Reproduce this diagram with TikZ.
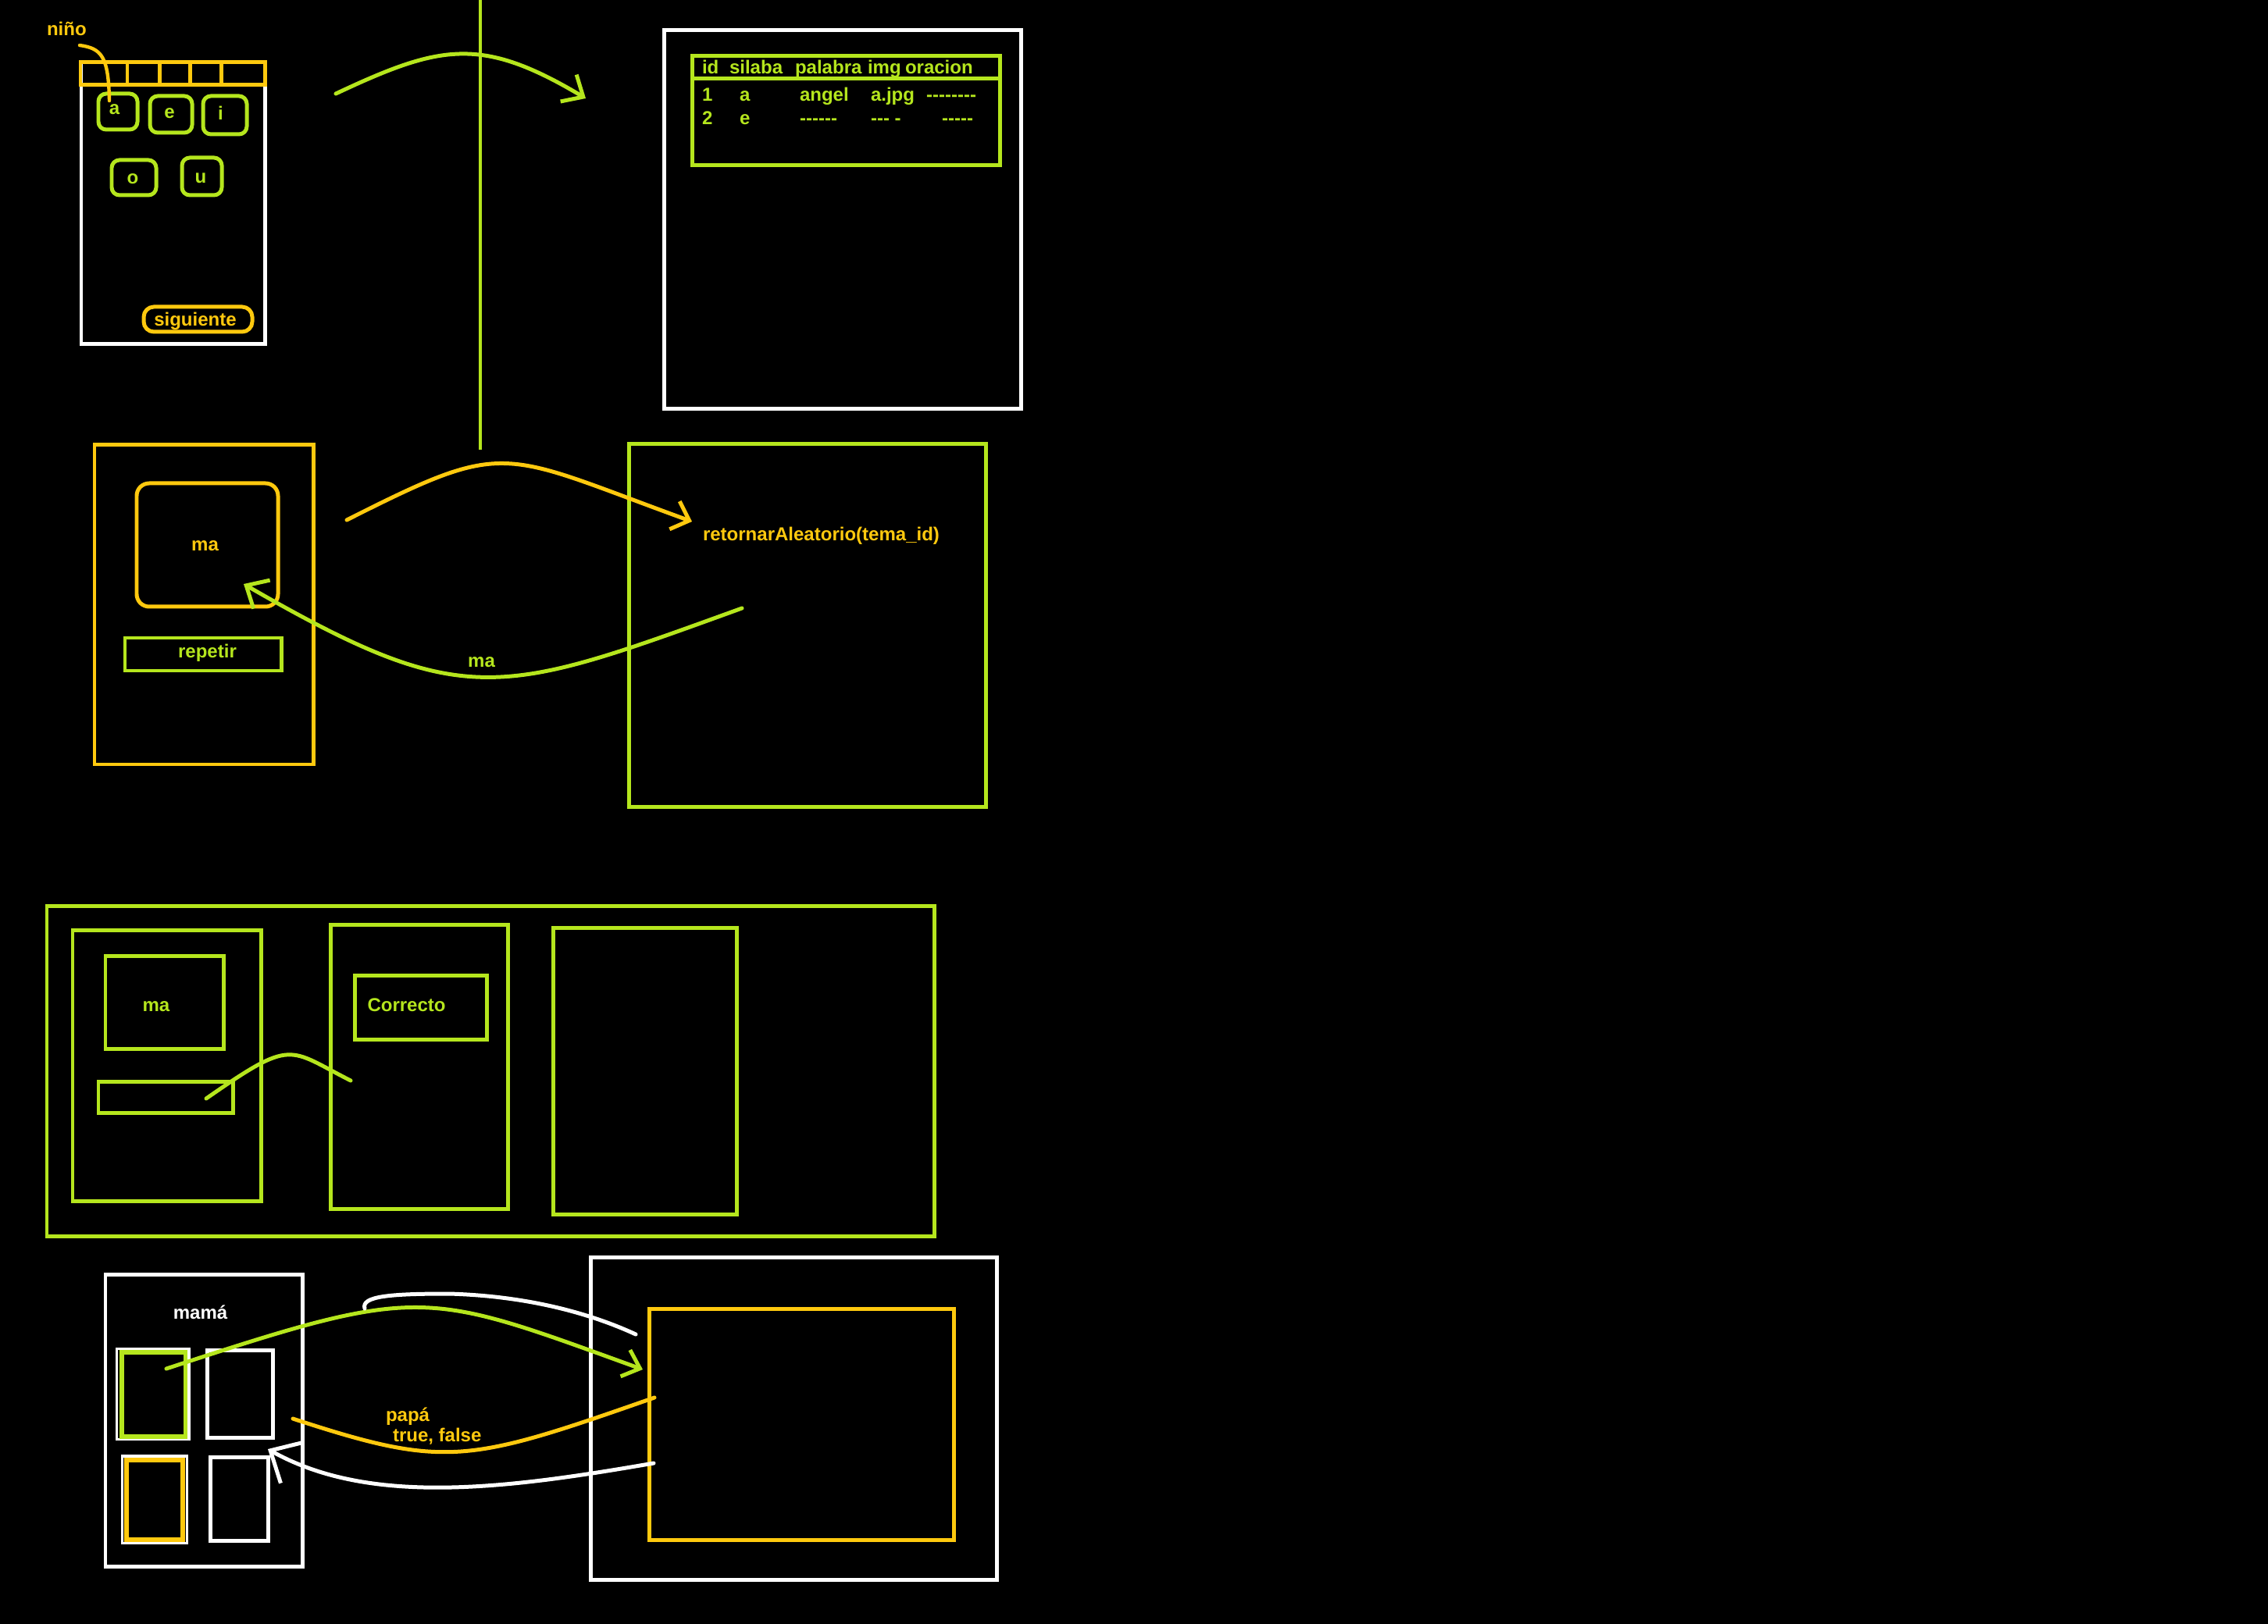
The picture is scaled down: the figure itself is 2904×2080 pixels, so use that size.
\documentclass[tikz,border=0pt]{standalone}
\usepackage{fontspec}
\setmainfont{Liberation Sans}
\usetikzlibrary{arrows.meta,fit}
\definecolor{lime}{HTML}{B5E61D}
\definecolor{gold}{HTML}{FFC90E}
\newcommand\myhy{\mbox{-}}
\begin{document}
\begin{tikzpicture}[x=0.01cm,y=-0.01cm,
  every node/.style={inner sep=0pt,outer sep=0pt},
  gbox/.style={draw=lime,line width=1.42pt,fit={#1}},
  ybox/.style={draw=gold,line width=1.42pt,fit={#1}},
  wbox/.style={draw=white,line width=1.42pt,fit={#1}},
  gl/.style={draw=lime,line width=1.42pt},
  yl/.style={draw=gold,line width=1.42pt},
  conn/.style={line width=1.42pt,line cap=round},
  barb/.style 2 args={-{Straight Barb[length=#1,width=#2]}},
  txt/.style={font=\fontsize{6.83pt}{8pt}\selectfont\bfseries}
]
\path[use as bounding box,fill=black] (0,0) rectangle (2904,2080);

% ---------- top phone ----------
\node[wbox={(104,80)(339,441)}] (phone1) {};
\node[ybox={(103,80)(339,109)}] (bar) {};
\draw[yl] (163,80) -- (163,109);
\draw[yl] (204,80) -- (204,109);
\draw[yl] (243,80) -- (243,109);
\draw[yl] (283,80) -- (283,109);
\node[gbox={(126,120)(176,166)},rounded corners=0.1cm] (ka) {};
\node[gbox={(192,123)(246,170)},rounded corners=0.1cm] (ke) {};
\node[gbox={(260,123)(316,172)},rounded corners=0.1cm] (ki) {};
\node[gbox={(143,205)(200,250)},rounded corners=0.1cm] (ko) {};
\node[gbox={(233,202)(284,250)},rounded corners=0.1cm] (ku) {};
\node[txt,lime,anchor=base] (la) at (146.5,147) {a};
\node[txt,lime,anchor=base] (le) at (217,152) {e};
\node[txt,lime,anchor=base] (li) at (282.5,154) {i};
\node[txt,lime,anchor=base] (lo) at (170,235.7) {o};
\node[txt,lime,anchor=base] (lu) at (257,235) {u};
\node[ybox={(184,393)(323,425)},rounded corners=0.13cm] (sig) {};
\node[txt,gold,anchor=base] (lsig) at (250,417.7) {siguiente};
\node[txt,gold,anchor=base west] (nino) at (60,46) {niño};
\coordinate (ns) at (102,58);
\coordinate (ne) at (140,129);
\draw[conn,gold,line width=1.25pt] (ns) .. controls (130,62) and (139,72) .. (ne);

% ---------- top database ----------
\node[wbox={(850,38.5)(1307.5,524)}] (db) {};
\node[gbox={(886,72)(1280,212)}] (tab) {};
\draw[gl] (886,101) -- (1280,101);
\node[txt,lime,anchor=base west] (h1) at (899,95) {id};
\node[txt,lime,anchor=base west] (h2) at (934,95) {silaba};
\node[txt,lime,anchor=base west] (h3) at (1018,95) {palabra};
\node[txt,lime,anchor=base west] (h4) at (1111,95) {img};
\node[txt,lime,anchor=base west] (h5) at (1159,95) {oracion};
\node[txt,lime,anchor=base west] (r11) at (899,130) {1};
\node[txt,lime,anchor=base west] (r12) at (947,130) {a};
\node[txt,lime,anchor=base west] (r13) at (1024,130) {angel};
\node[txt,lime,anchor=base west] (r14) at (1115,130) {a.jpg};
\node[txt,lime,anchor=base west] (r15) at (1186,130) {\myhy\myhy\myhy\myhy\myhy\myhy\myhy\myhy};
\node[txt,lime,anchor=base west] (r21) at (899,160) {2};
\node[txt,lime,anchor=base west] (r22) at (947,160) {e};
\node[txt,lime,anchor=base west] (r23) at (1024,160) {\myhy\myhy\myhy\myhy\myhy\myhy};
\node[txt,lime,anchor=base west] (r24) at (1115,160) {\myhy\myhy\myhy\ \myhy};
\node[txt,lime,anchor=base west] (r25) at (1206,160) {\myhy\myhy\myhy\myhy\myhy};

% top arrow and divider
\coordinate (t1s) at (430,120);
\coordinate (t1e) at (750,126);
\draw[conn,lime,barb={0.22cm}{0.40cm}] (t1s) .. controls (564,57) and (616,46) .. (t1e);
\coordinate (vtop) at (615,0);
\coordinate (vbot) at (615,576);
\draw[lime,line width=1.25pt] (vtop) -- (vbot);

% ---------- middle ----------
\node[ybox={(121,570)(401,979)}] (phone2) {};
\node[ybox={(175,619)(356,777)},rounded corners=0.16cm] (card) {};
\node[txt,gold,anchor=base] (lma1) at (262.6,706) {ma};
\node[gbox={(160,817)(360,859)}] (rep) {};
\node[txt,lime,anchor=base] (lrep) at (265.5,842.7) {repetir};
\node[gbox={(805,568.5)(1262.5,1033.5)}] (server) {};
\node[txt,gold,anchor=base west] (lret) at (900,693) {retornarAleatorio(tema\_id)};
\coordinate (m1s) at (444,666);
\coordinate (m1e) at (886,668);
\draw[conn,gold,barb={0.2cm}{0.38cm}] (m1s) .. controls (652,561) and (638,578) .. (m1e);
\coordinate (m2s) at (950,779);
\coordinate (m2e) at (312,748);
\draw[conn,lime,barb={0.23cm}{0.42cm}] (m2s) .. controls (638,892) and (595,911) .. (m2e);
\node[txt,lime,anchor=base] (lma2) at (616.5,855) {ma};

% ---------- third section ----------
\node[gbox={(60,1160)(1196.5,1583.5)}] (big) {};
\node[gbox={(93,1191)(334,1538)}] (s1) {};
\node[gbox={(135,1224)(286,1343)}] (s1ma) {};
\node[txt,lime,anchor=base] (lma3) at (200,1295) {ma};
\node[gbox={(126,1385)(298,1425)}] (s1btn) {};
\node[gbox={(423,1184)(650,1548)}] (s2) {};
\node[gbox={(454,1249)(623,1331)}] (s2ok) {};
\node[txt,lime,anchor=base west] (lok) at (470.5,1295.7) {Correcto};
\node[gbox={(708,1188)(943,1555)}] (s3) {};
\coordinate (c3s) at (264,1407);
\coordinate (c3e) at (449,1384);
\draw[conn,lime] (c3s) .. controls (376,1329) and (368,1343) .. (c3e);

% ---------- bottom section ----------
\node[wbox={(135,1632)(387,2006)}] (phone4) {};
\node[txt,white,anchor=base] (lmama) at (256.6,1689) {mamá};
\node[draw=white,line width=1.1pt,fit={(149.5,1727.5)(242,1843.5)}] (q1w) {};
\node[draw=lime,line width=1.7pt,fit={(156,1732)(237.5,1839.5)}] (q1) {};
\node[wbox={(265,1729)(349,1841)}] (q2) {};
\node[draw=white,line width=1.1pt,fit={(156.5,1865)(239.5,1976.5)}] (q3w) {};
\node[draw=gold,line width=1.7pt,fit={(162,1869.5)(234,1971.5)}] (q3) {};
\node[wbox={(269,1866)(343,1973)}] (q4) {};
\node[wbox={(756,1610.5)(1276,2023)}] (tv) {};
\node[ybox={(831,1676)(1221,1972)}] (tvin) {};
\coordinate (b1s) at (213,1753);
\coordinate (b1e) at (823,1754);
\draw[conn,lime,barb={0.2cm}{0.36cm}] (b1s) .. controls (542,1645) and (541,1652) .. (b1e);
\coordinate (b2s) at (467,1676);
\coordinate (b2m) at (575,1657);
\coordinate (b2e) at (814,1709);
\draw[conn,white] (b2s) .. controls (462,1660) and (500,1657) .. (b2m) .. controls (680,1660) and (760,1684) .. (b2e);
\coordinate (b3s) at (375,1817);
\coordinate (b3e) at (838,1790);
\draw[conn,gold] (b3s) .. controls (571,1881) and (598,1874) .. (b3e);
\node[txt,gold,anchor=base west] (lpapa) at (494,1820) {papá};
\node[txt,gold,anchor=base west] (ltf) at (503,1846.7) {true, false};
\coordinate (b4s) at (837,1874);
\coordinate (b4e) at (343,1856);
\draw[conn,white,barb={0.32cm}{0.6cm}] (b4s) .. controls (652,1906) and (475,1930) .. (b4e);
\end{tikzpicture}
\end{document}
